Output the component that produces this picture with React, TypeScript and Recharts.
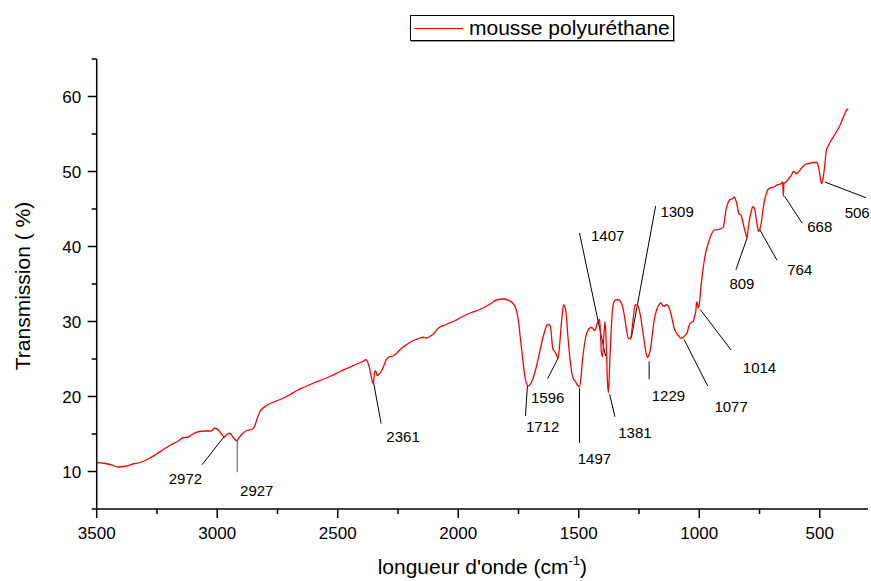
import React from "react";
import {
	LineChart,
	Line,
	XAxis,
	YAxis,
	Legend,
	ReferenceLine,
	ReferenceDot,
} from "recharts";

const FONT = '"Liberation Sans", Arial, sans-serif';

// wavenumber (cm-1)
const wavenumber = [
	3500, 3470, 3440, 3412, 3380, 3350, 3320, 3290, 3253, 3220,
	3190, 3165, 3142, 3120, 3100, 3079, 3050, 3025, 3010, 2995,
	2982, 2970, 2958, 2948, 2935, 2920, 2905, 2890, 2875, 2857,
	2845, 2835, 2822, 2800, 2770, 2739, 2700, 2670, 2635, 2600,
	2560, 2531, 2486, 2450, 2424, 2400, 2382, 2375, 2368, 2360,
	2354, 2350, 2347, 2343, 2336, 2328, 2320, 2310, 2299, 2285,
	2271, 2255, 2236, 2215, 2195, 2175, 2160, 2145, 2132, 2118,
	2104, 2083, 2050, 2014, 1980, 1945, 1910, 1896, 1875, 1855,
	1840, 1812, 1785, 1770, 1764, 1757, 1750, 1743, 1736, 1729,
	1722, 1715, 1708, 1700, 1695, 1684, 1674, 1663, 1653, 1642,
	1632, 1625, 1618, 1613, 1608, 1600, 1592, 1586, 1581, 1577,
	1570, 1563, 1558, 1553, 1545, 1535, 1525, 1514, 1505, 1497,
	1490, 1486, 1479, 1472, 1465, 1458, 1450, 1442, 1436, 1430,
	1425, 1420, 1414, 1410, 1406, 1401, 1396, 1391, 1386, 1381,
	1377, 1372, 1366, 1360, 1354, 1345, 1336, 1320, 1313, 1306,
	1300, 1295, 1285, 1278, 1272, 1267, 1257, 1250, 1243, 1236,
	1229, 1222, 1215, 1208, 1201, 1194, 1187, 1180, 1174, 1167,
	1160, 1153, 1146, 1139, 1132, 1125, 1118, 1111, 1104, 1095,
	1086, 1077, 1070, 1060, 1049, 1044, 1039, 1032, 1025, 1020,
	1014, 1011, 1008, 1004, 1000, 996, 993, 986, 979, 970,
	961, 950, 937, 917, 908, 900, 895, 889, 882, 875,
	868, 861, 854, 850, 845, 840, 836, 827, 820, 813,
	808, 802, 797, 792, 785, 778, 771, 766, 761, 756,
	753, 748, 743, 736, 729, 722, 715, 705, 695, 686,
	678, 668, 660, 654, 651, 649, 640, 632, 625, 618,
	612, 608, 603, 598, 590, 577, 565, 556, 540, 528,
	511, 507, 503, 498, 494, 490, 487, 483, 478, 472,
	465, 452, 440, 431, 420, 410, 400, 389, 382,
];

// transmission (%)
const transmission = [
	11.2, 11.1, 10.9, 10.6, 10.7, 11.0, 11.2, 11.6, 12.3, 13.0,
	13.6, 14.0, 14.5, 14.6, 15.0, 15.3, 15.4, 15.4, 15.8, 15.5,
	15.0, 14.6, 15.0, 15.1, 14.6, 14.1, 14.7, 15.2, 15.5, 15.6,
	16.0, 17.0, 18.0, 18.7, 19.2, 19.6, 20.2, 20.8, 21.3, 21.8,
	22.3, 22.7, 23.4, 23.9, 24.3, 24.6, 24.9, 24.5, 23.8, 22.5,
	21.8, 22.3, 23.3, 23.4, 22.8, 23.0, 23.3, 24.0, 24.9, 25.3,
	25.4, 25.8, 26.4, 26.9, 27.3, 27.6, 27.8, 27.9, 27.8, 28.0,
	28.3, 29.1, 29.6, 30.1, 30.7, 31.2, 31.6, 31.8, 32.2, 32.6,
	32.9, 33.0, 32.7, 32.3, 32.0, 31.3, 30.0, 28.0, 26.0, 24.0,
	22.4, 21.6, 21.4, 21.7, 22.0, 23.0, 24.2, 25.8, 27.3, 28.6,
	29.5, 29.6, 29.4, 28.0, 26.4, 26.0, 25.5, 25.1, 26.3, 27.8,
	30.5, 32.2, 32.0, 31.3, 28.0, 24.6, 22.6, 22.0, 21.5, 21.3,
	22.8, 24.4, 26.3, 27.8, 28.6, 29.0, 29.2, 29.1, 28.8, 29.0,
	29.6, 30.0, 30.3, 28.5, 25.8, 25.3, 28.0, 30.0, 27.0, 22.0,
	20.5, 24.0, 28.5, 31.5, 32.6, 32.9, 32.9, 32.2, 31.2, 29.8,
	28.5, 27.8, 27.7, 29.3, 31.0, 32.2, 32.2, 31.6, 30.6, 29.0,
	27.5, 26.0, 25.2, 25.6, 26.6, 28.5, 30.2, 31.2, 31.8, 32.2,
	32.5, 32.2, 32.0, 32.2, 32.2, 31.8, 31.1, 30.1, 29.1, 28.5,
	28.1, 27.8, 27.8, 28.1, 28.6, 29.3, 29.7, 29.9, 30.0, 30.6,
	31.5, 32.6, 32.4, 31.8, 32.3, 33.5, 34.6, 36.5, 38.2, 39.6,
	40.6, 41.6, 42.2, 42.3, 42.4, 42.6, 43.5, 44.9, 45.7, 46.2,
	46.3, 46.4, 46.6, 46.3, 45.8, 45.0, 44.4, 44.2, 43.4, 42.4,
	41.8, 41.1, 42.4, 43.5, 44.6, 45.3, 45.1, 44.2, 43.1, 42.2,
	42.0, 42.4, 43.1, 44.8, 46.2, 47.0, 47.6, 47.8, 47.9, 48.0,
	48.2, 48.3, 48.4, 48.6, 46.7, 48.4, 48.6, 48.9, 49.2, 49.5,
	49.9, 50.0, 49.9, 49.7, 49.9, 50.4, 50.8, 51.0, 51.1, 51.2,
	51.2, 50.8, 50.2, 49.2, 48.4, 48.5, 49.0, 49.8, 51.3, 52.9,
	53.4, 54.2, 54.8, 55.3, 55.9, 56.6, 57.4, 58.2, 58.3,
];

// peak annotations: label, leader line (from -> to) and label centre, all in data units
const peakLabels = ["2972", "2927", "2361", "1712", "1596", "1497", "1381", "1407", "1309", "1229", "1077", "1014", "809", "764", "668", "506"];
const lineFromX = [2970, 2917, 2352, 1713, 1586, 1497, 1372, 1389, 1282, 1208, 1063, 996, 802, 750, 646, 479];
const lineFromY = [14.7, 14.2, 22.0, 21.5, 25.1, 21.1, 20.3, 25.4, 27.8, 24.7, 27.6, 31.6, 41.1, 42.3, 46.7, 48.6];
const lineToX = [3063, 2917, 2320, 1721, 1629, 1497, 1350, 1497, 1181, 1208, 965, 868, 848, 678, 573, 308];
const lineToY = [10.9, 9.9, 16.4, 17.4, 22.4, 13.8, 17.3, 41.8, 45.4, 22.3, 21.4, 26.2, 36.9, 38.2, 43.1, 46.5];
const labelX = [3132, 2836, 2229, 1650, 1629, 1435, 1267, 1380, 1092, 1128, 868, 750, 823, 583, 500, 345];
const labelY = [9.1, 7.5, 14.6, 16.0, 19.8, 11.7, 15.2, 41.4, 44.6, 20.1, 18.7, 23.8, 35.0, 36.9, 42.7, 44.5];

const xTicks = [3500, 3250, 3000, 2750, 2500, 2250, 2000, 1750, 1500, 1250, 1000, 750, 500];
const yTicks = [5, 10, 15, 20, 25, 30, 35, 40, 45, 50, 55, 60, 65];

const data = wavenumber.map((wn, i) => ({ wn, t: transmission[i] }));

const XTick = (props: any) => {
	const { x, y, payload } = props;
	const major = payload.value % 500 === 0;
	return (
		<g>
			<line x1={x} x2={x} y1={y} y2={y + (major ? 9 : 5)} stroke="#000" strokeWidth={1.5} />
			{major && (
				<text x={x} y={y + 30} textAnchor="middle" fontSize={17} fontFamily={FONT} fill="#000">
					{payload.value}
				</text>
			)}
		</g>
	);
};

const YTick = (props: any) => {
	const { x, y, payload } = props;
	const major = payload.value % 10 === 0;
	return (
		<g>
			<line x1={x - (major ? 9 : 5)} x2={x} y1={y} y2={y} stroke="#000" strokeWidth={1.5} />
			{major && (
				<text x={x - 15.5} y={y} dy="0.36em" textAnchor="end" fontSize={17} fontFamily={FONT} fill="#000">
					{payload.value}
				</text>
			)}
		</g>
	);
};

const XTitle = (props: any) => {
	const { viewBox } = props;
	const cx = viewBox.x + viewBox.width / 2;
	return (
		<text x={cx} y={viewBox.y + 65} textAnchor="middle" fontSize={21} fontFamily={FONT} fill="#000">
			longueur d'onde (cm
			<tspan fontSize={13} dy={-9}>-1</tspan>
			<tspan dy={9}>)</tspan>
		</text>
	);
};

const YTitle = (props: any) => {
	const { viewBox } = props;
	const cy = viewBox.y + viewBox.height / 2 + 2;
	const cx = 29.5;
	return (
		<text x={cx} y={cy} transform={`rotate(-90, ${cx}, ${cy})`} textAnchor="middle" fontSize={21} fontFamily={FONT} fill="#000">
			Transmission ( %)
		</text>
	);
};

const LegendBox = () => (
	<div
		style={{
			width: 262,
			height: 24,
			border: "1px solid #000",
			boxShadow: "1px 1px 0 #999",
			background: "#fff",
			display: "flex",
			alignItems: "center",
			fontFamily: FONT,
			fontSize: 21,
			color: "#000",
			whiteSpace: "nowrap",
		}}>
		<div style={{ width: 49, height: 0, borderTop: "1.3px solid #ff0000", marginLeft: 3, marginRight: 6 }} />
		<span>mousse polyuréthane</span>
	</div>
);

export default function App() {
	return (
		<div style={{ position: "absolute", left: 0, top: 0, width: 871, height: 581, background: "#fff" }}>
			<LineChart
				width={871}
				height={581}
				data={data}
				margin={{ top: 59, right: 3, bottom: 0, left: 0.7 }}>
				<XAxis
					type="number"
					dataKey="wn"
					domain={[300, 3500]}
					reversed
					allowDataOverflow
					ticks={xTicks}
					interval={0}
					height={72}
					tickSize={0}
					tickMargin={0}
					tickLine={false}
					tick={<XTick />}
					axisLine={{ stroke: "#000", strokeWidth: 1.5 }}
					label={<XTitle />}
				/>
				<YAxis
					type="number"
					domain={[5, 65]}
					allowDataOverflow
					ticks={yTicks}
					interval={0}
					width={96}
					tickSize={0}
					tickMargin={0}
					tickLine={false}
					tick={<YTick />}
					axisLine={{ stroke: "#000", strokeWidth: 1.5 }}
					label={<YTitle />}
				/>
				<Legend
					layout="horizontal"
					verticalAlign="middle"
					align="center"
					wrapperStyle={{ left: 410, top: 15, width: 264, height: 26 }}
					content={() => <LegendBox />}
				/>
				{peakLabels.map((p, i) => (
					<ReferenceLine
						key={"l" + p}
						segment={[
							{ x: lineFromX[i], y: lineFromY[i] },
							{ x: lineToX[i], y: lineToY[i] },
						]}
						stroke={p === "2927" ? "#555" : "#000"}
						strokeWidth={1}
						ifOverflow="visible"
					/>
				))}
				{peakLabels.map((p, i) => (
					<ReferenceDot
						key={"d" + p}
						x={labelX[i]}
						y={labelY[i]}
						r={0}
						ifOverflow="visible"
						shape={(s: any) => (
							<text x={s.cx} y={s.cy} dy="0.36em" textAnchor="middle" fontSize={15} fontFamily={FONT} fill="#000">
								{p}
							</text>
						)}
					/>
				))}
				<Line
					type="monotone"
					dataKey="t"
					name="mousse polyuréthane"
					stroke="#ff0000"
					strokeWidth={1.3}
					dot={false}
					activeDot={false}
					isAnimationActive={false}
				/>
			</LineChart>
		</div>
	);
}
